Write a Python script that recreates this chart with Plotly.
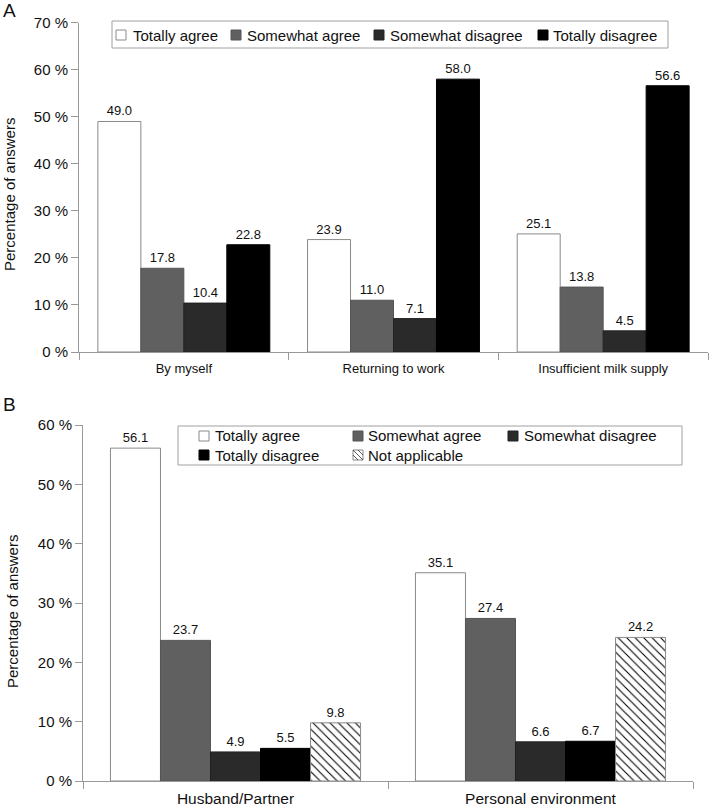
import plotly.graph_objects as go

# ---------------- data ----------------
series_a = ["Totally agree", "Somewhat agree", "Somewhat disagree", "Totally disagree"]
cats_a = ["By myself", "Returning to work", "Insufficient milk supply"]
totally_agree_a = [49.0, 23.9, 25.1]
somewhat_agree_a = [17.8, 11.0, 13.8]
somewhat_disagree_a = [10.4, 7.1, 4.5]
totally_disagree_a = [22.8, 58.0, 56.6]

series_b = ["Totally agree", "Somewhat agree", "Somewhat disagree", "Totally disagree", "Not applicable"]
cats_b = ["Husband/Partner", "Personal environment"]
totally_agree_b = [56.1, 35.1]
somewhat_agree_b = [23.7, 27.4]
somewhat_disagree_b = [4.9, 6.6]
totally_disagree_b = [5.5, 6.7]
not_applicable_b = [9.8, 24.2]

yticks_a = [0, 10, 20, 30, 40, 50, 60, 70]
yticks_b = [0, 10, 20, 30, 40, 50, 60]
ylabels_a = ["0 %", "10 %", "20 %", "30 %", "40 %", "50 %", "60 %", "70 %"]
ylabels_b = ["0 %", "10 %", "20 %", "30 %", "40 %", "50 %", "60 %"]

# ---------------- styles ----------------
W, H = 709, 809
FONT = "Liberation Sans, Arial, sans-serif"
AXIS = "#999999"
STYLE = {
    "Totally agree": dict(fill="#ffffff", line="#8a8a8a", pattern=""),
    "Somewhat agree": dict(fill="#606060", line="#555555", pattern=""),
    "Somewhat disagree": dict(fill="#2a2a2a", line="#222222", pattern=""),
    "Totally disagree": dict(fill="#000000", line="#000000", pattern=""),
    "Not applicable": dict(fill="#ffffff", line="#8a8a8a", pattern="\\"),
}


def px(x):
    return x / W


def py(y):
    return 1 - y / H


fig = go.Figure()


def add_bar(name, cats, vals, xa, ya):
    st = STYLE[name]
    marker = dict(color=st["fill"], line=dict(color=st["line"], width=1))
    if st["pattern"]:
        marker["pattern"] = dict(shape=st["pattern"], bgcolor="#ffffff",
                                 fgcolor="#000000", size=6, solidity=0.18,
                                 fillmode="replace")
    fig.add_trace(go.Bar(
        x=cats, y=vals, name=name, marker=marker, xaxis=xa, yaxis=ya,
        texttemplate="%{y:.1f}", textposition="outside", constraintext="none",
        cliponaxis=False, textfont=dict(family=FONT, size=13, color="#111111"),
        showlegend=False, hoverinfo="x+y",
    ))


for nm, vals in zip(series_a, [totally_agree_a, somewhat_agree_a,
                               somewhat_disagree_a, totally_disagree_a]):
    add_bar(nm, cats_a, vals, "x", "y")

for nm, vals in zip(series_b, [totally_agree_b, somewhat_agree_b,
                               somewhat_disagree_b, totally_disagree_b,
                               not_applicable_b]):
    add_bar(nm, cats_b, vals, "x2", "y2")

common_x = dict(type="category", showline=True, linecolor=AXIS, linewidth=1,
                ticks="outside", tickson="boundaries", ticklen=7, tickcolor=AXIS,
                showgrid=False, zeroline=False, automargin=False)
common_y = dict(showline=True, linecolor=AXIS, linewidth=1, ticks="outside",
                ticklen=7, tickcolor=AXIS, showgrid=False, zeroline=False,
                automargin=False, tickmode="array",
                tickfont=dict(family=FONT, size=15, color="#111111"))

fig.update_layout(
    width=W, height=H, autosize=False,
    margin=dict(l=0, r=0, t=0, b=0, pad=0),
    paper_bgcolor="white", plot_bgcolor="white",
    font=dict(family=FONT, color="#111111"),
    barmode="group", bargap=0.18, bargroupgap=0,
    xaxis=dict(common_x, domain=[px(79), px(708)], anchor="y",
               range=[-0.5, len(cats_a) - 0.5], ticklabelstandoff=4,
               tickfont=dict(family=FONT, size=13, color="#111111")),
    yaxis=dict(common_y, domain=[py(352), py(22.7)], anchor="x",
               range=[0, 70], tickvals=yticks_a, ticktext=ylabels_a),
    xaxis2=dict(common_x, domain=[px(83), px(693)], anchor="y2",
                range=[-0.5, len(cats_b) - 0.5], ticklabelstandoff=3,
                tickfont=dict(family=FONT, size=15.5, color="#111111")),
    yaxis2=dict(common_y, domain=[py(781), py(425)], anchor="x2",
                range=[0, 60], tickvals=yticks_b, ticktext=ylabels_b),
)

shapes = []
annotations = []

# panel letters and axis titles
for letter, (lx, ly) in zip(["A", "B"], [(9, 10), (9, 404)]):
    annotations.append(dict(text=letter, x=px(lx), y=py(ly), xref="paper", yref="paper",
                            xanchor="center", yanchor="middle", showarrow=False,
                            font=dict(family=FONT, size=19, color="#111111")))
for (tx, ty) in [(9, 195), (12, 612)]:
    annotations.append(dict(text="Percentage of answers", x=px(tx), y=py(ty),
                            xref="paper", yref="paper", textangle=-90,
                            xanchor="center", yanchor="middle", showarrow=False,
                            font=dict(family=FONT, size=15, color="#111111")))


def legend(names, box, items):
    x0, y0, x1, y1 = box
    shapes.append(dict(type="rect", xref="paper", yref="paper",
                       x0=px(x0), x1=px(x1), y0=py(y1), y1=py(y0),
                       line=dict(color="#a0a0a0", width=1), fillcolor="white",
                       layer="above"))
    for nm, (sx, tx, yc) in zip(names, items):
        st = STYLE[nm]
        shapes.append(dict(type="rect", xref="paper", yref="paper",
                           x0=px(sx), x1=px(sx + 10), y0=py(yc + 5), y1=py(yc - 5),
                           line=dict(color=st["line"], width=1),
                           fillcolor=st["fill"], layer="above"))
        if st["pattern"]:
            segs = [((sx, yc - 5), (sx + 10, yc + 5)),
                    ((sx + 5, yc - 5), (sx + 10, yc)),
                    ((sx, yc), (sx + 5, yc + 5))]
            for (a, b) in segs:
                shapes.append(dict(type="line", xref="paper", yref="paper",
                                   x0=px(a[0]), y0=py(a[1]), x1=px(b[0]), y1=py(b[1]),
                                   line=dict(color="#333333", width=0.8),
                                   layer="above"))
        annotations.append(dict(text=nm, x=px(tx - 1), y=py(yc), xref="paper",
                                yref="paper", xanchor="left", yanchor="middle",
                                showarrow=False,
                                font=dict(family=FONT, size=15, color="#111111")))


legend(series_a, (112, 21, 668, 48),
       [(116, 132, 35), (231, 246, 35), (374, 389, 35), (538, 552, 35)])
legend(series_b, (178, 426, 682, 465),
       [(199, 214, 436), (353, 367, 436), (508, 523, 436),
        (199, 214, 455), (353, 367, 455)])

fig.update_layout(shapes=shapes, annotations=annotations)
fig.write_html("out.html", config={"displayModeBar": False},
               post_script="document.body.style.margin='0px'; document.body.style.overflow='hidden';")
